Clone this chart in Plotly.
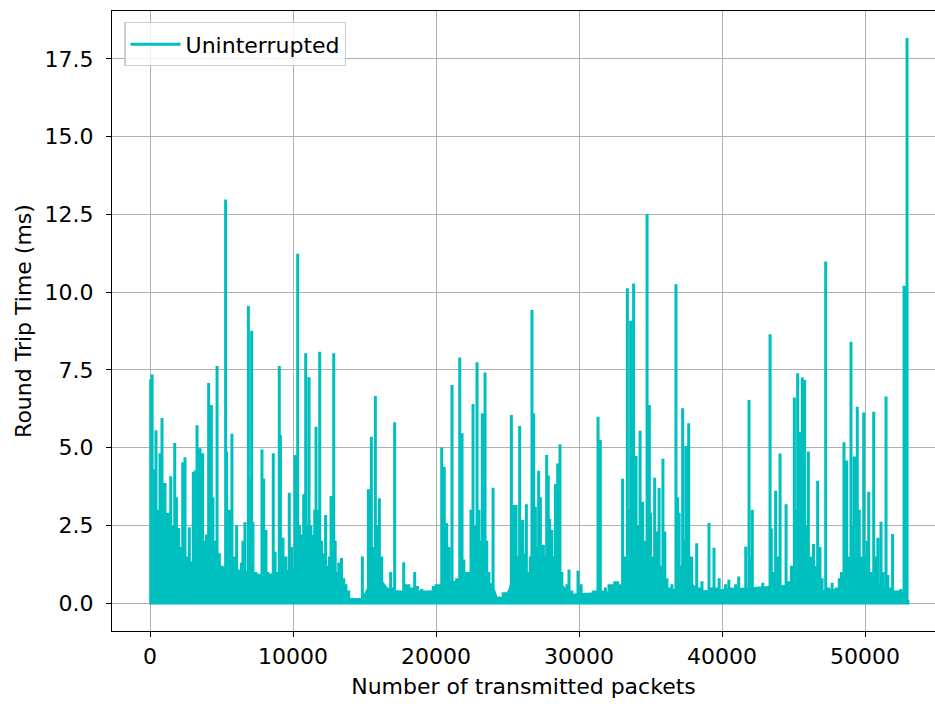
import plotly.graph_objects as go

# Spike peaks (packet index, RTT ms)
spike_x = [50, 150, 280, 420, 560, 700, 840, 950, 1050, 1250, 1450, 1600, 1730, 1850, 2000, 2150, 2290, 2450, 2600, 2750,
           3030, 3150, 3290, 3400, 3500, 3600, 3680, 3850, 3950, 4100, 4290, 4400, 4550, 4690, 4850, 5000, 5150, 5290, 5360, 5450,
           5550, 5730, 5900, 6060, 6250, 6400, 6500, 6640, 6880, 6980, 7110, 7200, 7400, 7550, 7700, 7830, 7950, 8110, 8250, 8400,
           8620, 8750, 8850, 9040, 9120, 9300, 9500, 9740, 9900, 10140, 10330, 10450, 10600, 10750, 10890, 11000, 11120, 11250, 11420, 11520,
           11610, 11750, 11870, 12000, 12100, 12280, 12400, 12550, 12660, 12850, 12950, 13050, 13200, 13390, 13550, 13700, 13900, 14100, 14400, 14600,
           14850, 15000, 15270, 15400, 15480, 15620, 15760, 15900, 16040, 16200, 16350, 16550, 16830, 16950, 17110, 17300, 17500, 17740, 17900, 18100,
           18300, 18510, 18700, 19000, 19300, 19550, 19810, 20000, 20200, 20400, 20580, 20750, 20900, 21120, 21300, 21450, 21660, 21820, 21950, 22100,
           22300, 22450, 22590, 22700, 22870, 23000, 23100, 23240, 23430, 23550, 23700, 23990, 24200, 24450, 24700, 24900, 25100, 25270, 25380, 25480,
           25600, 25700, 25850, 25950, 26060, 26200, 26320, 26450, 26600, 26710, 26830, 26950, 27050, 27180, 27300, 27400, 27510, 27620, 27740, 27850,
           27950, 28100, 28200, 28350, 28510, 28670, 28800, 29000, 29150, 29300, 29500, 29700, 29930, 30150, 30400, 30700, 31000, 31150, 31330, 31490,
           31650, 31850, 32100, 32300, 32500, 32700, 32850, 33050, 33200, 33380, 33500, 33610, 33720, 33820, 33990, 34100, 34270, 34450, 34600, 34760,
           34920, 35000, 35100, 35290, 35450, 35600, 35700, 35870, 36000, 36150, 36300, 36500, 36780, 36900, 37000, 37100, 37250, 37370, 37480, 37670,
           37800, 37880, 38050, 38230, 38400, 38600, 38800, 39090, 39250, 39440, 39600, 39800, 40000, 40250, 40480, 40700, 40950, 41170, 41400, 41660,
           41890, 42000, 42120, 42300, 42550, 42850, 43100, 43360, 43450, 43550, 43750, 43900, 44060, 44250, 44480, 44650, 44850, 45060, 45180, 45290,
           45450, 45620, 45780, 45900, 46040, 46200, 46400, 46550, 46690, 46850, 47000, 47250, 47450, 47700, 48000, 48200, 48350, 48530, 48720, 48850,
           49020, 49120, 49250, 49350, 49460, 49600, 49750, 49910, 50050, 50150, 50260, 50400, 50610, 50750, 50900, 51120, 51250, 51470, 51600, 51750,
           51930, 52100, 52300, 52500, 52730, 52940, 53000]
spike_y = [7.2, 7.35, 4.3, 5.56, 3.0, 4.82, 5.95, 2.6, 3.86, 2.9, 4.08, 2.5, 5.15, 3.4, 2.41, 1.8, 4.53, 4.69, 1.5, 2.44,
           4.21, 4.26, 5.72, 2.8, 4.98, 3.2, 4.82, 2.0, 2.2, 7.08, 6.37, 3.4, 2.0, 7.62, 1.6, 1.2, 0.9, 12.98, 4.87, 2.0,
           3.0, 5.44, 1.5, 2.5, 1.0, 1.3, 2.0, 2.6, 9.55, 4.0, 8.76, 2.6, 1.0, 0.3, 0.6, 4.94, 4.0, 2.35, 1.0, 0.8,
           4.82, 1.65, 1.0, 7.62, 5.4, 2.1, 1.5, 3.55, 1.8, 4.76, 11.23, 2.5, 2.2, 3.5, 8.03, 2.5, 7.26, 2.5, 2.19, 3.0,
           5.67, 3.0, 8.08, 2.0, 1.6, 2.83, 1.2, 1.5, 3.44, 8.03, 2.0, 1.0, 1.3, 1.45, 0.8, 0.6, 0.4, 0.15, 0.15, 0.15,
           1.5, 0.3, 3.66, 2.0, 5.35, 1.8, 6.66, 2.5, 3.37, 1.5, 0.52, 0.5, 1.0, 0.5, 5.81, 0.4, 0.3, 1.31, 0.6, 0.6,
           0.5, 1.0, 0.55, 0.45, 0.3, 0.4, 0.55, 0.6, 0.6, 5.0, 4.38, 2.57, 1.8, 7.01, 0.6, 0.8, 7.9, 5.46, 1.4, 1.0,
           1.0, 3.0, 6.4, 2.5, 7.74, 3.0, 2.0, 6.1, 7.41, 2.0, 1.0, 3.71, 0.2, 0.2, 0.35, 0.35, 0.4, 6.05, 2.0, 3.15,
           3.15, 1.5, 5.69, 2.0, 2.67, 1.6, 3.18, 1.0, 1.5, 9.42, 6.1, 3.1, 1.8, 4.25, 3.4, 1.5, 1.87, 1.5, 4.76, 4.1,
           2.7, 2.35, 1.5, 3.83, 4.49, 5.11, 1.0, 0.4, 0.6, 1.08, 0.4, 0.3, 1.04, 0.6, 0.3, 0.2, 0.4, 0.4, 5.99, 5.24,
           0.4, 0.5, 0.6, 0.6, 0.7, 0.7, 0.6, 4.0, 1.5, 10.12, 3.0, 9.08, 3.0, 10.28, 4.73, 2.5, 5.54, 3.26, 2.0, 12.51,
           6.37, 2.9, 1.5, 4.03, 2.3, 3.7, 1.2, 4.64, 2.3, 0.8, 0.5, 0.6, 10.25, 3.4, 2.9, 1.2, 6.26, 2.0, 5.05, 5.78,
           1.5, 1.49, 0.5, 1.92, 0.5, 0.7, 0.4, 2.58, 0.5, 1.78, 0.5, 0.8, 0.3, 0.6, 0.75, 0.5, 0.6, 0.85, 0.3, 1.81,
           6.53, 1.5, 3.0, 0.2, 0.3, 0.65, 0.3, 8.64, 2.4, 1.0, 3.61, 1.5, 4.81, 0.2, 3.18, 0.7, 1.2, 6.61, 3.0, 7.39,
           5.5, 7.25, 7.17, 2.5, 4.87, 1.5, 1.9, 1.2, 3.93, 1.8, 0.8, 10.98, 0.5, 0.65, 0.5, 0.8, 1.0, 5.17, 4.58, 1.5,
           8.4, 2.5, 4.71, 2.0, 6.31, 3.0, 1.5, 6.13, 1.5, 2.0, 3.58, 1.0, 6.15, 1.5, 2.1, 2.61, 1.0, 6.64, 0.9, 0.5,
           2.22, 0.4, 0.4, 0.45, 10.2, 18.17, 0.1]

# Upper edge of the densely filled low band (packet index, RTT ms)
band_x = [0, 2000, 5000, 8000, 10000, 12000, 13000, 13600, 14000, 14800, 15200, 16000, 16600, 17000, 20000, 21000, 23000, 24000, 24300,
          24900, 25300, 28500, 29200, 29500, 33000, 34000, 35500, 36500, 37500, 38500, 45000, 46000, 47000, 48500, 50000, 52000, 53000]
band_y = [1.2, 1.4, 1.2, 0.9, 1.1, 1.0, 0.6, 0.3, 0.15, 0.15, 0.5, 0.9, 0.5, 0.4, 0.4, 0.7, 0.8, 0.6, 0.2,
          0.2, 0.8, 0.8, 0.4, 0.3, 0.4, 1.2, 0.8, 0.4, 0.8, 0.4, 0.6, 1.0, 0.4, 0.5, 0.8, 0.4, 0.3]

x_ticks = [0, 10000, 20000, 30000, 40000, 50000]
y_ticks = [0.0, 2.5, 5.0, 7.5, 10.0, 12.5, 15.0, 17.5]

COLOR = "rgb(0,191,191)"

line_x, line_y = [0], [0.0]
for sx, sy in zip(spike_x, spike_y):
    line_x += [sx, sx, sx]
    line_y += [0.0, sy, 0.0]

fig = go.Figure()
fig.add_trace(go.Scatter(x=band_x, y=band_y, mode="lines", fill="tozeroy",
                         fillcolor=COLOR, line=dict(width=0, color=COLOR),
                         showlegend=False, hoverinfo="skip"))
fig.add_trace(go.Scatter(x=line_x, y=line_y, mode="lines", name="Uninterrupted",
                         line=dict(color=COLOR, width=3)))

font = dict(family="DejaVu Sans", size=22, color="black")
fig.update_layout(
    width=935, height=704,
    margin=dict(l=112, r=0, t=11, b=73),
    paper_bgcolor="white", plot_bgcolor="white",
    font=font,
    showlegend=True,
    legend=dict(x=0.015, y=0.982, xanchor="left", yanchor="top",
                bgcolor="rgba(255,255,255,0.8)", bordercolor="#cccccc", borderwidth=1.2,
                font=font, itemwidth=50),
    xaxis=dict(range=[-2657, 54895], tickvals=x_ticks, tickformat="d", automargin=False,
               showgrid=True, gridcolor="#b0b0b0", gridwidth=1.2, zeroline=False,
               showline=True, linecolor="black", linewidth=1.2, mirror=True,
               ticks="outside", ticklen=5, tickwidth=1.2, tickcolor="black",
               ticklabelstandoff=0,
               title=dict(text="Number of transmitted packets", font=font, standoff=11)),
    yaxis=dict(range=[-0.9, 19.04], tickvals=y_ticks, tickformat=".1f", automargin=False,
               showgrid=True, gridcolor="#b0b0b0", gridwidth=1.2, zeroline=False,
               showline=True, linecolor="black", linewidth=1.2, mirror=False,
               ticks="outside", ticklen=5, tickwidth=1.2, tickcolor="black",
               ticklabelstandoff=8,
               title=dict(text="Round Trip Time (ms)", font=font, standoff=6)),
)

fig.write_html("out.html", config={"displayModeBar": False},
               post_script="document.body.style.margin='0';document.body.style.overflow='hidden';")
